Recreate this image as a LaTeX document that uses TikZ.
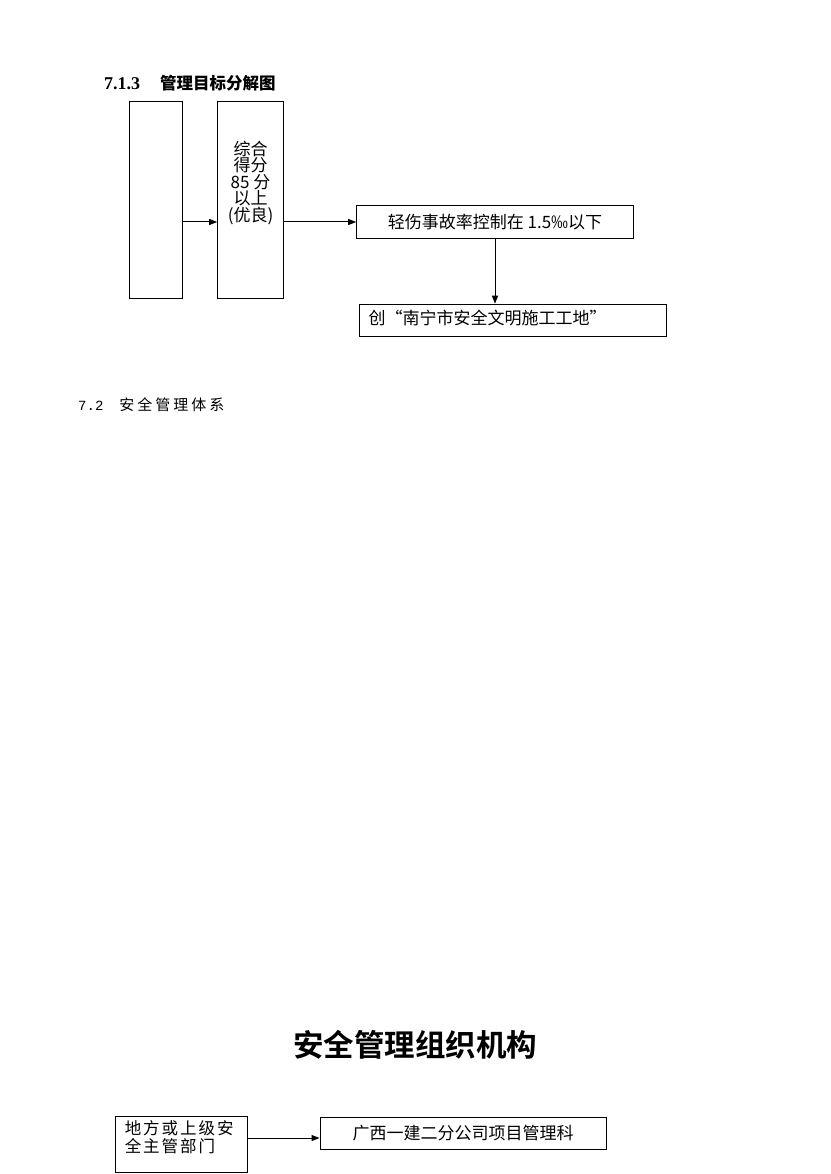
\documentclass[tikz,border=0pt]{standalone}
\usepackage{fontspec}
\setmainfont{Liberation Serif}
\newfontfamily\cjk{Noto Sans CJK SC}
\newfontfamily\cjkb{Noto Sans CJK SC Bold}
\newfontfamily\monof{Liberation Mono}
\usetikzlibrary{arrows.meta,calc}
\begin{document}
\begin{tikzpicture}[x=1pt,y=-1pt,
  box/.style={draw,line width=1pt,rectangle,inner sep=0pt},
  arr/.style={line width=1pt,-{Triangle[length=8pt,width=6pt]}},
  lbl/.style={font=\cjk\fontsize{17}{16.5}\selectfont,inner sep=0pt}]
\useasboundingbox (0,0) rectangle (830,1174);
\fill[white] (0,0) rectangle (830,1174);
% heading
\node[anchor=west,inner sep=0pt] (h1) at (104,83) {\fontsize{18}{18}\selectfont\bfseries 7.1.3\hspace{20pt}{\cjkb\fontsize{16.5}{18}\selectfont 管理目标分解图}};
% boxes
\node[box,minimum width=53pt,minimum height=196pt] (b1) at (155.5,200) {};
\node[box,minimum width=65.6pt,minimum height=196pt] (b2) at (250.5,200) {};
\node[lbl,align=center] (t2) at (250.5,182.5) {综合\\得分\\85 分\\以上\\(优良)};
\node[box,minimum width=276.6pt,minimum height=32.6pt,lbl] (b3) at (495,222) {轻伤事故率控制在 1.5‰以下};
\node[box,minimum width=307pt,minimum height=32.7pt] (b4) at (512.5,320.5) {};
\node[lbl,anchor=west] (t4) at ($(b4.west)+(10,-2)$) {创“南宁市安全文明施工工地”};
\draw[arr] (b1.east |- b3) -- (b2.west |- b3);
\draw[arr] (b2.east |- b3) -- (b3.west);
\draw[arr] (b3.south) -- (b3.south |- b4.north);
% 7.2
\node[anchor=west,inner sep=0pt] (h2) at (78,405) {\monof\fontsize{14}{16}\selectfont 7.2\hspace{16pt}{\cjk\fontsize{15}{16}\selectfont\addfontfeature{LetterSpace=20}安全管理体系}};
% title
\node[inner sep=0pt] (title) at (415,1045) {\cjkb\fontsize{30.5}{32}\selectfont 安全管理组织机构};
% bottom
\node[box,minimum width=132.7pt,minimum height=55.3pt] (b5) at (181.4,1144.4) {};
\node[lbl,anchor=north west,align=left,font=\cjk\fontsize{16.5}{18}\selectfont\addfontfeature{LetterSpace=12}] (t5) at ($(b5.north west)+(10,4)$) {地方或上级安\\全主管部门};
\node[box,minimum width=286pt,minimum height=32pt,lbl] (b6) at (463,1133.3) {广西一建二分公司项目管理科};
\draw[arr] (b5.east |- 0,1138) -- (b6.west |- 0,1138);
\end{tikzpicture}
\end{document}
